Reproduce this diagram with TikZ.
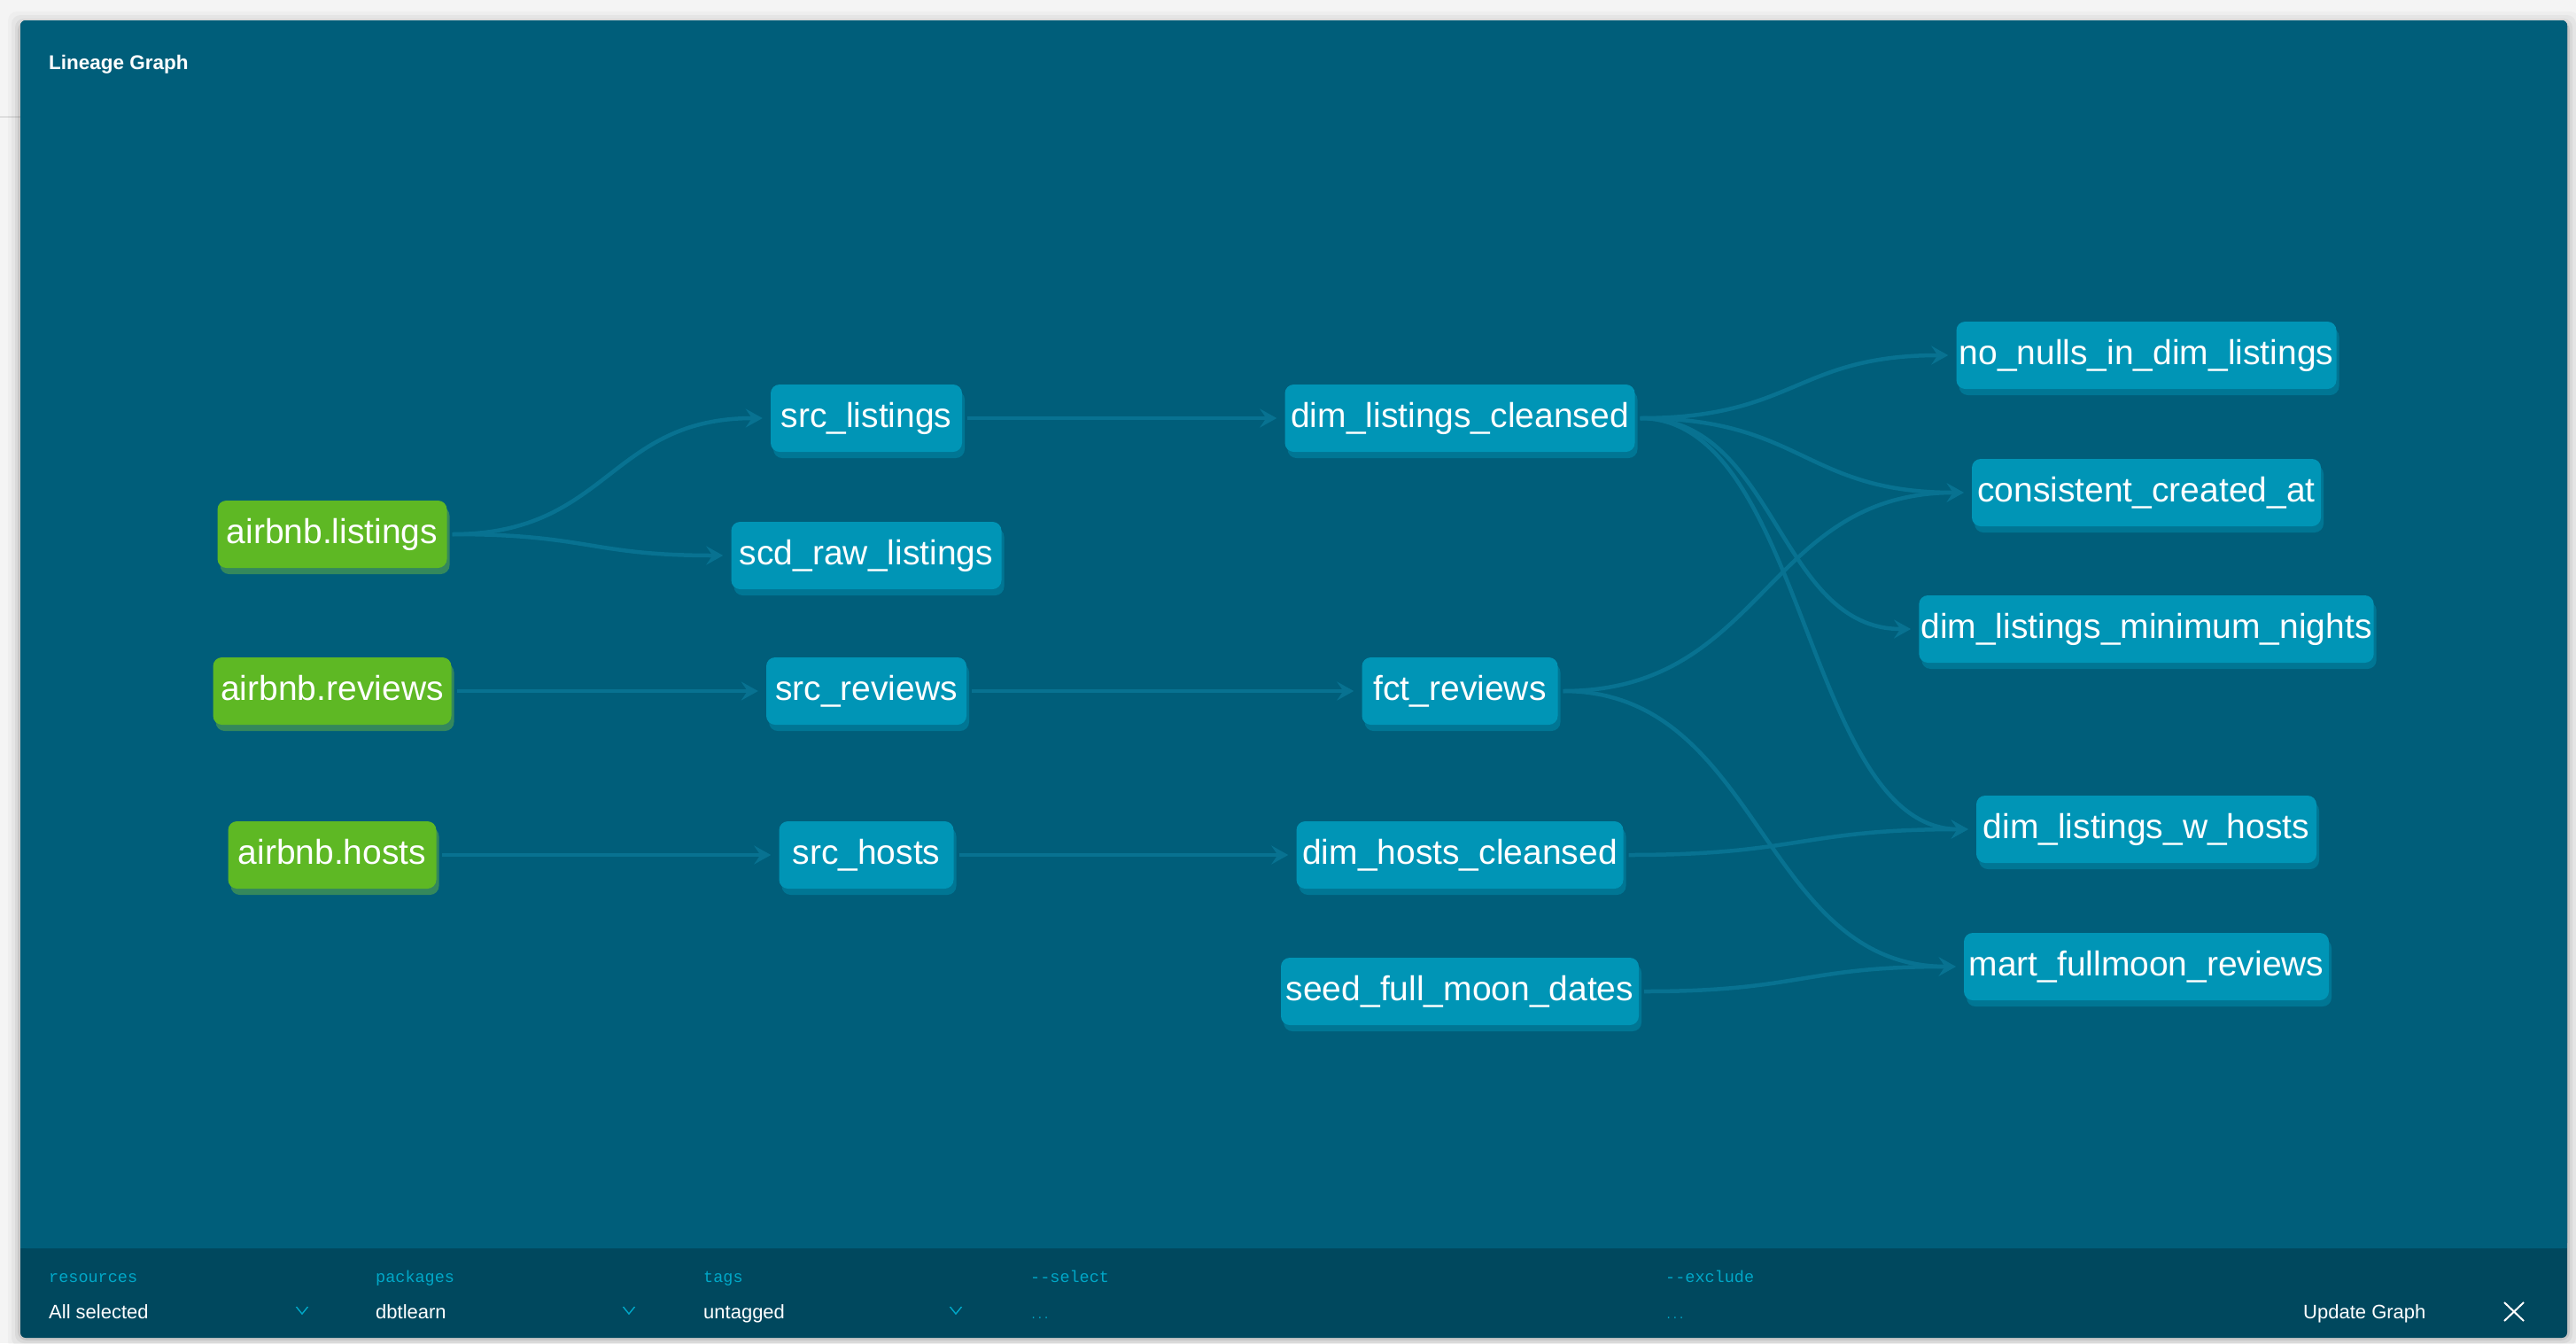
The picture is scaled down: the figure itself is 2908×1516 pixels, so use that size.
\documentclass[tikz,border=0pt]{standalone}
\usepackage{fontspec}
\setmainfont{Liberation Sans}
\setmonofont{Liberation Mono}
\usetikzlibrary{arrows.meta,calc,shadows}
\definecolor{pagebg}{RGB}{244,244,244}
\definecolor{pageline}{RGB}{222,222,222}
\definecolor{panelbg}{RGB}{0,94,122}
\definecolor{barbg}{RGB}{0,72,94}
\definecolor{modelfill}{RGB}{0,149,182}
\definecolor{modelshadow}{RGB}{0,118,148}
\definecolor{srcfill}{RGB}{94,184,36}
\definecolor{srcshadow}{RGB}{52,136,92}
\definecolor{edgecol}{RGB}{8,114,145}
\definecolor{labelteal}{RGB}{0,168,200}
\newcommand{\edgelink}[2]{\draw[edge] let \p1=(#1.east), \p2=(#2.west) in ({\x1+6pt},\y1) .. controls ({(\x1+\x2)/2},\y1) and ({(\x1+\x2)/2},\y2) .. ({\x2-9pt},\y2);}
\begin{document}
\begin{tikzpicture}[x=1pt,y=-1pt,
  gnode/.style={rounded corners=10pt, text=white, font=\fontsize{39}{44}\selectfont,
    minimum height=76pt, inner xsep=2pt, inner ysep=0pt, text height=28pt, text depth=8pt},
  model/.style={gnode, fill=modelfill, general shadow={fill=modelshadow, shadow xshift=3pt, shadow yshift=-7pt}},
  source/.style={gnode, fill=srcfill, general shadow={fill=srcshadow, shadow xshift=3pt, shadow yshift=-7pt}},
  edge/.style={draw=edgecol, line width=4.5pt, -{Stealth[length=19pt,width=21pt,inset=7pt]}},
  barlabel/.style={anchor=base west, inner sep=0pt, text=labelteal, font=\ttfamily\fontsize{18.5}{20}\selectfont},
  barvalue/.style={anchor=base west, inner sep=0pt, text=white, font=\fontsize{22}{24}\selectfont},
  chev/.style={draw=labelteal, line width=1.4pt}]
\useasboundingbox (0,0) rectangle (2908,1516);
% page and panel
\fill[pagebg] (0,0) rectangle (2908,1516);
\draw[pageline, line width=2pt] (0,132) -- (23,132);
\foreach \s/\o in {14/0.025,10/0.035,6/0.05,3/0.08}
  \fill[black, opacity=\o, rounded corners=10pt] (23-\s,23-\s+4) rectangle (2898+\s,1510+\s);
\fill[barbg, rounded corners=6pt] (23,23) rectangle (2898,1510);
\fill[panelbg, rounded corners=6pt] (23,23) rectangle (2898,1409);
\fill[panelbg] (23,1300) rectangle (2898,1409);
% title
\node[anchor=base west, inner sep=0pt, text=white, font=\bfseries\fontsize{22.5}{24}\selectfont] (title) at (55,78) {Lineage Graph};
% nodes
\node[source, minimum width=259pt] (alist) at (375,603) {airbnb.listings};
\node[source, minimum width=269pt] (arev) at (375,780) {airbnb.reviews};
\node[source, minimum width=235pt] (ahost) at (375,965) {airbnb.hosts};
\node[model, minimum width=216pt] (srclist) at (978,472) {src\_listings};
\node[model, minimum width=305pt] (scd) at (978,627) {scd\_raw\_listings};
\node[model, minimum width=226pt] (srcrev) at (978,780) {src\_reviews};
\node[model, minimum width=197pt] (srchost) at (978,965) {src\_hosts};
\node[model, minimum width=395pt] (dlc) at (1648,472) {dim\_listings\_cleansed};
\node[model, minimum width=221pt] (fct) at (1648,780) {fct\_reviews};
\node[model, minimum width=369pt] (dhc) at (1648,965) {dim\_hosts\_cleansed};
\node[model, minimum width=404pt] (seed) at (1648,1119) {seed\_full\_moon\_dates};
\node[model, minimum width=429pt] (nonull) at (2423,401) {no\_nulls\_in\_dim\_listings};
\node[model, minimum width=394pt] (cca) at (2423,556) {consistent\_created\_at};
\node[model, minimum width=513pt] (dlmn) at (2423,710) {dim\_listings\_minimum\_nights};
\node[model, minimum width=384pt] (dlwh) at (2423,936) {dim\_listings\_w\_hosts};
\node[model, minimum width=412pt] (mart) at (2423,1091) {mart\_fullmoon\_reviews};
% edges
\edgelink{alist}{srclist}
\edgelink{alist}{scd}
\edgelink{arev}{srcrev}
\edgelink{ahost}{srchost}
\edgelink{srclist}{dlc}
\edgelink{srcrev}{fct}
\edgelink{srchost}{dhc}
\edgelink{dlc}{nonull}
\edgelink{dlc}{cca}
\edgelink{dlc}{dlmn}
\edgelink{dlc}{dlwh}
\edgelink{fct}{cca}
\edgelink{fct}{mart}
\edgelink{dhc}{dlwh}
\edgelink{seed}{mart}
% bottom bar
\node[barlabel] (lres) at (55,1447) {resources};
\node[barlabel] (lpkg) at (424,1447) {packages};
\node[barlabel] (ltag) at (794,1447) {tags};
\node[barlabel] (lsel) at (1163,1447) {-{}-select};
\node[barlabel] (lexc) at (1880,1447) {-{}-exclude};
\node[barvalue] (vres) at (55,1488) {All selected};
\node[barvalue] (vpkg) at (424,1488) {dbtlearn};
\node[barvalue] (vtag) at (794,1488) {untagged};
\node[barlabel, font=\ttfamily\fontsize{12}{13}\selectfont] (vsel) at (1163,1488) {...};
\node[barlabel, font=\ttfamily\fontsize{12}{13}\selectfont] (vexc) at (1880,1488) {...};
\foreach \cx in {341,710,1079}
  \draw[chev] (\cx-6.5,1475) -- (\cx,1483) -- (\cx+6.5,1475);
\node[barvalue] (upd) at (2600,1488) {Update Graph};
\draw[white, line width=2pt] (2827,1470) -- (2849,1491) (2849,1470) -- (2827,1491);
\end{tikzpicture}
\end{document}
